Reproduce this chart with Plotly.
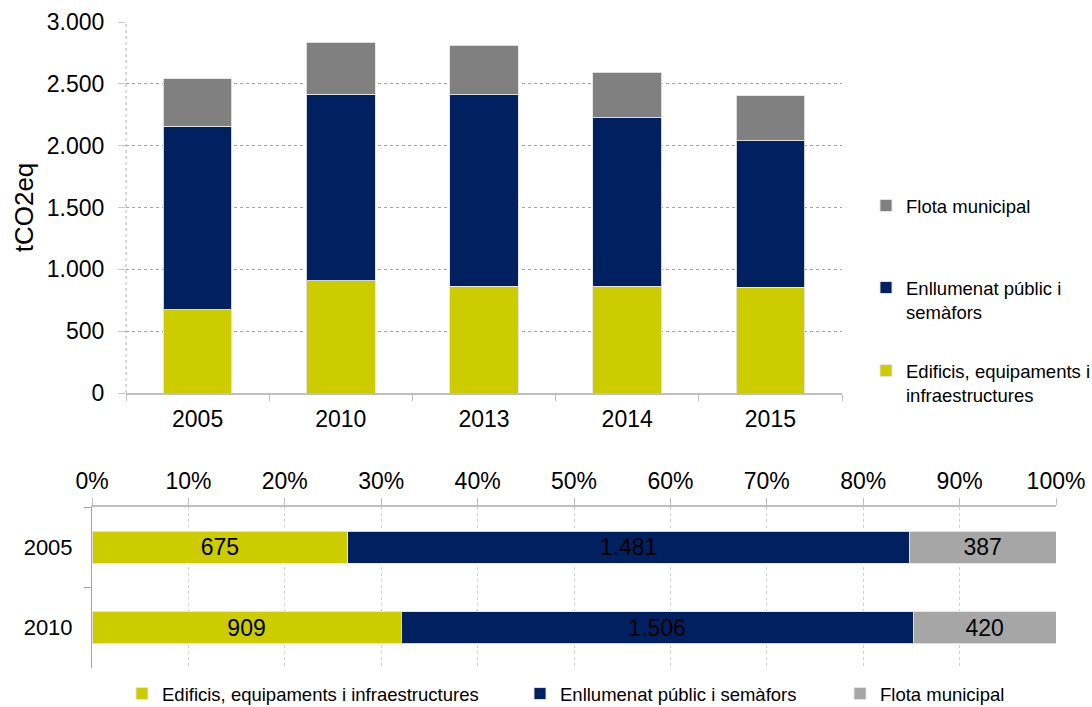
import plotly.graph_objects as go

years = ["2005", "2010", "2013", "2014", "2015"]
edificis = [675, 909, 863, 863, 857]
enllumenat = [1481, 1506, 1547, 1361, 1181]
flota = [387, 420, 404, 369, 367]

years_pct = ["2005", "2010"]
edificis_pct = [675, 909]
enllumenat_pct = [1481, 1506]
flota_pct = [387, 420]

name_edif = "Edificis, equipaments i infraestructures"
name_enll = "Enllumenat públic i semàfors"
name_flota = "Flota municipal"

YEL = "#CCCC00"
NAVY = "#002060"
GRAY = "#808080"
LGRAY = "#A6A6A6"
FONT = "Liberation Sans, Arial, sans-serif"

W, H = 1092, 707
def px_x(p): return p / W
def px_y(p): return 1 - p / H

fig = go.Figure()

edge = dict(width=1, color="rgba(230,230,230,0.9)")
# top stacked chart
fig.add_trace(go.Bar(x=years, y=edificis, name="Edificis, equipaments i<br>infraestructures",
                     marker=dict(color=YEL, line=edge), width=0.48, xaxis="x", yaxis="y", legend="legend3"))
fig.add_trace(go.Bar(x=years, y=enllumenat, name="Enllumenat públic i<br>semàfors",
                     marker=dict(color=NAVY, line=edge), width=0.48, xaxis="x", yaxis="y", legend="legend2"))
fig.add_trace(go.Bar(x=years, y=flota, name=name_flota,
                     marker=dict(color=GRAY, line=edge), width=0.48, xaxis="x", yaxis="y", legend="legend"))

# bottom 100% chart
def fmt(v):
    return f"{v:,}".replace(",", ".")
totals = [a + b + c for a, b, c in zip(edificis_pct, enllumenat_pct, flota_pct)]
for vals, nm, col, lg in [(edificis_pct, name_edif, YEL, "legend4"),
                          (enllumenat_pct, name_enll, NAVY, "legend5"),
                          (flota_pct, name_flota, LGRAY, "legend6")]:
    fig.add_trace(go.Bar(y=years_pct, x=[v / t for v, t in zip(vals, totals)], orientation="h",
                         name=nm, text=[fmt(v) for v in vals], textposition="inside",
                         insidetextanchor="middle", textfont=dict(color="black", size=23, family=FONT),
                         marker=dict(color=col, line=edge), width=0.4,
                         xaxis="x2", yaxis="y2", legend=lg))

def leg(x, y, yanchor="middle"):
    return dict(x=x, y=y, xanchor="left", yanchor=yanchor, bgcolor="rgba(0,0,0,0)",
                font=dict(size=18.5, family=FONT, color="black"), valign="top",
                itemwidth=30, tracegroupgap=0)

fig.update_layout(
    width=W, height=H,
    margin=dict(l=0, r=0, t=0, b=0, autoexpand=False),
    paper_bgcolor="white", plot_bgcolor="white",
    barmode="stack", bargap=0.52,
    separators=",.",
    font=dict(family=FONT, color="black", size=18),
    showlegend=True,
    legend=leg(px_x(866), px_y(206)),
    legend2=leg(px_x(866), px_y(300)),
    legend3=leg(px_x(866), px_y(383)),
    legend4=leg(px_x(122), px_y(694)),
    legend5=leg(px_x(520), px_y(694)),
    legend6=leg(px_x(840), px_y(694)),
    xaxis=dict(domain=[px_x(126), px_x(842)], type="category", tickson="boundaries",
               ticks="outside", ticklen=6, tickcolor="#BFBFBF", tickwidth=1,
               showline=True, linecolor="#BFBFBF", linewidth=2, showgrid=False,
               tickfont=dict(size=23), ticklabelstandoff=4, anchor="y", automargin=False),
    yaxis=dict(domain=[px_y(393), px_y(22)], range=[0, 3000], dtick=500, tickformat=",.0f",
               showgrid=True, gridcolor="#A6A6A6", griddash="dot", gridwidth=1,
               ticks="outside", ticklen=7, tickcolor="#C8C8C8", zeroline=False,
               showline=False, tickfont=dict(size=23), ticklabelstandoff=9,
               title=dict(text="tCO2eq", font=dict(size=26), standoff=5), anchor="x",
               automargin=False),
    xaxis2=dict(domain=[px_x(92), px_x(1056)], range=[0, 1], dtick=0.1, tickformat=".0%",
                side="top", showline=True, linecolor="#BFBFBF", linewidth=2,
                ticks="outside", ticklen=7, tickcolor="#BFBFBF",
                showgrid=True, gridcolor="#D0D0D0", griddash="dot", zeroline=False,
                tickfont=dict(size=23), anchor="y2", automargin=False),
    yaxis2=dict(domain=[px_y(668), px_y(507)], type="category", autorange="reversed",
                tickson="boundaries", ticks="outside", ticklen=7, tickcolor="#A6A6A6",
                showline=True, linecolor="#A6A6A6", linewidth=1, showgrid=False,
                tickfont=dict(size=22), ticklabelstandoff=14, anchor="x2", automargin=False),
    shapes=[dict(type="line", xref="x domain", yref="y domain", x0=0, x1=0, y0=0, y1=1,
                 line=dict(color="#B0B0B0", width=1, dash="dot"), layer="below")],
)

fig.write_html("out.html", config={"displayModeBar": False},
               post_script="document.body.style.margin='0';document.body.style.overflow='hidden';")
